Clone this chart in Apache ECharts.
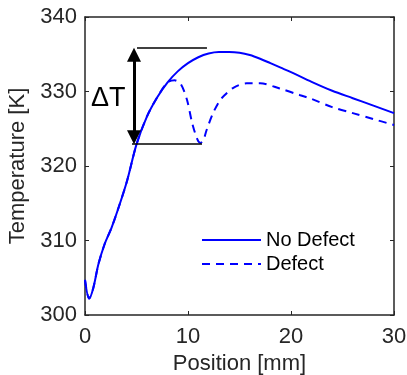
<!DOCTYPE html>
<html>
<head>
<meta charset="utf-8">
<script src="https://cdn.jsdelivr.net/npm/echarts@6/dist/echarts.min.js"></script>
<style>html,body{margin:0;padding:0;background:#fff}#c{width:407px;height:375px}</style>
</head>
<body>
<div id="c"></div>
<script>
const seriesNames = ['No Defect', 'Defect'];
const noDefect = [[0,304.7],[0.4,302.2],[0.8,303.6],[1.3,306.8],[1.9,309.5],[2.6,311.8],[3.4,315],[4.1,318.1],[5,322.9],[6,326.6],[7,329.2],[8,331.2],[9,332.7],[10,333.8],[11,334.6],[12,335.1],[13,335.3],[14,335.3],[15,335.2],[16,334.9],[17,334.4],[18,333.8],[19,333.2],[20,332.6],[22,331.3],[24,330.1],[26,329.1],[28,328.1],[30,327.1]];
const defect = [[0,304.7],[0.4,302.2],[0.8,303.6],[1.3,306.8],[1.9,309.5],[2.6,311.8],[3.4,315],[4.1,318.1],[5,322.9],[6,326.6],[7,329.2],[8,331.2],[8.7,331.5],[9.3,331.0],[9.9,328.9],[10.4,325.8],[10.9,323.6],[11.2,323.1],[11.5,323.5],[11.8,324.8],[12.4,327],[13,328.6],[13.4,329.3],[14.4,330.5],[15.7,331.1],[17,331.1],[18.9,330.4],[20.9,329.5],[22,329.0],[24,327.9],[26,327.1],[28,326.3],[30,325.5]];
const xTicks = [0, 10, 20, 30];
const yTicks = [300, 310, 320, 330, 340];
const deltaTop = 335.84, deltaBottom = 322.95;
const xLabel = 'Position [mm]', yLabel = 'Temperature [K]', annot = 'ΔT';

const axisColor = '#262626';
const font = 'Liberation Sans, Arial, sans-serif';
const chart = echarts.init(document.getElementById('c'));
const baseX = {type:'value', min:xTicks[0], max:xTicks[xTicks.length-1], interval:10,
  axisLine:{show:true, onZero:false, lineStyle:{color:axisColor, width:1.5}},
  axisTick:{show:true, inside:true, length:4, lineStyle:{color:axisColor}},
  splitLine:{show:false}};
const baseY = {type:'value', min:yTicks[0], max:yTicks[yTicks.length-1], interval:10,
  axisLine:{show:true, onZero:false, lineStyle:{color:axisColor, width:1.5}},
  axisTick:{show:true, inside:true, length:4, lineStyle:{color:axisColor}},
  splitLine:{show:false}};
chart.setOption({
  animation:false,
  textStyle:{fontFamily:font},
  grid:{left:85, right:13, top:17, bottom:60, containLabel:false, outerBoundsMode:'none'},
  legend:{data:seriesNames, orient:'vertical', left:196, top:225, itemWidth:59, itemHeight:14, itemGap:4,
    itemStyle:{color:'rgba(0,0,0,0)', borderColor:'rgba(0,0,0,0)', borderWidth:0, opacity:0},
    textStyle:{fontSize:20, color:'#000', fontFamily:font, lineHeight:20}},
  xAxis:[
    Object.assign({}, baseX, {position:'bottom', name:xLabel, nameLocation:'middle', nameGap:29,
      nameTextStyle:{fontSize:22, color:axisColor, fontFamily:font},
      axisLabel:{fontSize:22, color:axisColor, margin:11, fontFamily:font}}),
    Object.assign({}, baseX, {position:'top', axisLabel:{show:false}})
  ],
  yAxis:[
    Object.assign({}, baseY, {position:'left', name:yLabel, nameLocation:'middle', nameGap:47,
      nameTextStyle:{fontSize:22, color:axisColor, fontFamily:font},
      axisLabel:{fontSize:22, color:axisColor, margin:8, fontFamily:font}}),
    Object.assign({}, baseY, {position:'right', axisLabel:{show:false}})
  ],
  series:[
    {name:seriesNames[0], type:'line', data:noDefect, smooth:0.3, symbol:'none',
      lineStyle:{color:'#0000ff', width:2}, itemStyle:{color:'#0000ff'},
      markLine:{silent:true, symbol:'none', label:{show:false}, animation:false,
        lineStyle:{color:'#000', width:1.5, type:'solid'},
        data:[
          [{coord:[5.05, deltaTop]},{coord:[11.84, deltaTop]}],
          [{coord:[4.56, deltaBottom]},{coord:[11.36, deltaBottom]}],
          [{coord:[4.76, deltaBottom+0.9], symbol:'triangle', symbolSize:[14,14], lineStyle:{width:3}},
           {coord:[4.76, deltaTop-0.9], symbol:'triangle', symbolSize:[14,14], lineStyle:{width:3}}]
        ]},
      markPoint:{silent:true, symbol:'circle', symbolSize:0,
        label:{show:true, position:'inside', formatter:annot, fontSize:27, color:'#000', fontFamily:font},
        data:[{coord:[2.25, 329]}]}
    },
    {name:seriesNames[1], type:'line', data:defect, smooth:0.3, symbol:'none',
      lineStyle:{color:'#0000ff', width:2, type:[8,6]}, itemStyle:{color:'#0000ff'}}
  ]
});
</script>
</body>
</html>
